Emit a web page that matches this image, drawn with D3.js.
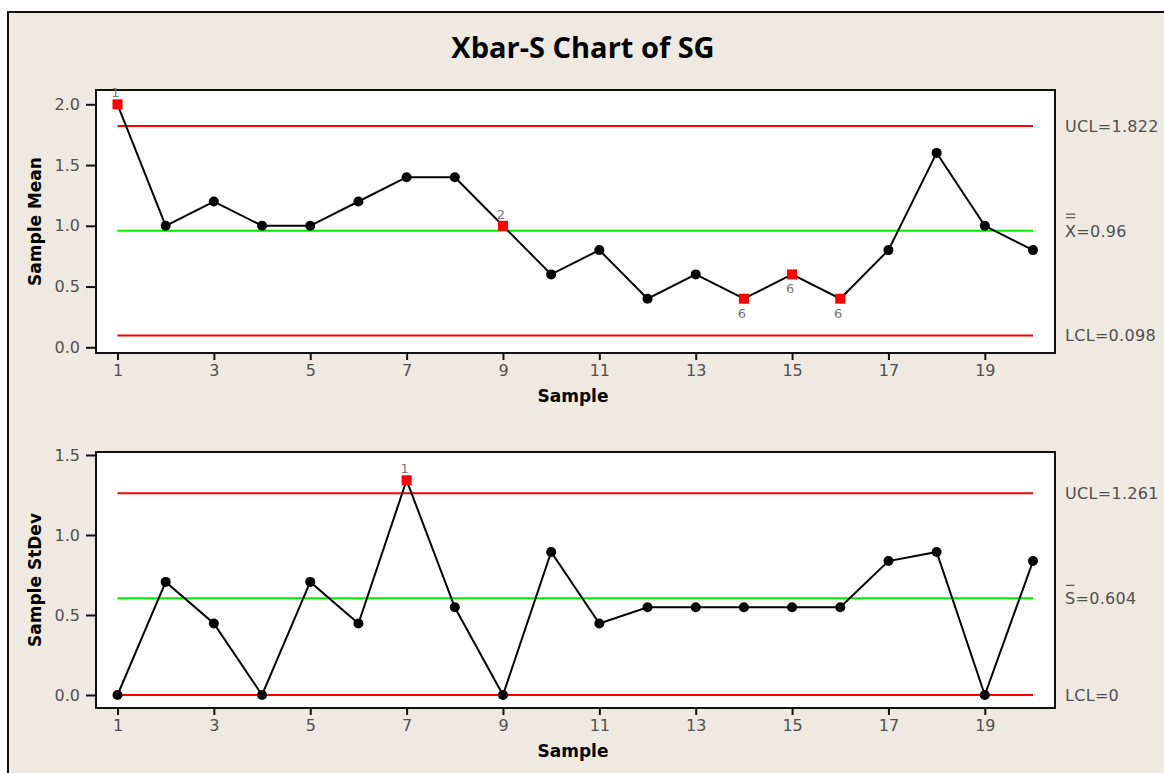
<!DOCTYPE html>
<html>
<head>
<meta charset="utf-8">
<script src="https://cdn.jsdelivr.net/npm/d3@7"></script>
<style>
  html, body { margin: 0; padding: 0; background: #ffffff; }
  svg { display: block; }
</style>
</head>
<body>
<script>
// Subgroup numbers and plotted statistics
const samples = d3.range(1, 21);
const sampleMeans = [2.0, 1.0, 1.2, 1.0, 1.0, 1.2, 1.4, 1.4, 1.0, 0.6,
                     0.8, 0.4, 0.6, 0.4, 0.6, 0.4, 0.8, 1.6, 1.0, 0.8];
const sampleStDevs = [0, 0.707, 0.447, 0, 0.707, 0.447, 1.342, 0.548, 0, 0.894,
                      0.447, 0.548, 0.548, 0.548, 0.548, 0.548, 0.837, 0.894, 0, 0.837];

// Control limits
const meanLimits = { ucl: 1.822, center: 0.96, lcl: 0.098 };
const sdLimits = { ucl: 1.261, center: 0.604, lcl: 0 };

// Failed-test flags: sample number -> test number
const meanFlags = [ { s: 1, test: "1", pos: "above" }, { s: 9, test: "2", pos: "above" },
                    { s: 14, test: "6", pos: "below" }, { s: 15, test: "6", pos: "below" },
                    { s: 16, test: "6", pos: "below" } ];
const sdFlags = [ { s: 7, test: "1", pos: "above" } ];

// Axis ticks
const xTicks = [1, 3, 5, 7, 9, 11, 13, 15, 17, 19];
const meanTicks = [0.0, 0.5, 1.0, 1.5, 2.0];
const sdTicks = [0.0, 0.5, 1.0, 1.5];

const W = 1164, H = 773;
const svg = d3.select("body").append("svg").attr("width", W).attr("height", H);

const tickFont = "'DejaVu Sans', sans-serif";
const boldFont = "'DejaVu Sans', sans-serif";
const tickColor = "#505050";

// Beige panel
svg.append("rect").attr("x", 8).attr("y", 12).attr("width", 1200).attr("height", 800)
  .attr("fill", "#eeeae1").attr("stroke", "#111").attr("stroke-width", 2);

svg.append("text").attr("x", 583).attr("y", 58).attr("text-anchor", "middle")
  .attr("font-family", "'Open Sans', sans-serif").attr("font-weight", 700)
  .attr("font-size", 29).attr("fill", "#000").text("Xbar-S Chart of SG");

const x = d3.scaleLinear().domain([1, 20]).range([117.5, 1033]);

function panel(cfg) {
  const { top, bottom, y, values, limits, flags, ticks, yTitle, labels } = cfg;
  const g = svg.append("g");
  const left = 96, right = 1055;

  g.append("rect").attr("x", left).attr("y", top).attr("width", right - left)
    .attr("height", bottom - top).attr("fill", "#fff").attr("stroke", "#111").attr("stroke-width", 2);

  // Y axis
  const yAxis = g.append("g").attr("transform", `translate(${left},0)`)
    .call(d3.axisLeft(y).tickValues(ticks).tickFormat(d3.format(".1f")).tickSize(10).tickPadding(6));
  yAxis.select(".domain").remove();
  yAxis.selectAll("line").attr("stroke", "#111").attr("stroke-width", 2);
  yAxis.selectAll("text").attr("font-family", tickFont).attr("font-size", 16).attr("fill", tickColor);

  // X axis
  const xAxis = g.append("g").attr("transform", `translate(0,${bottom})`)
    .call(d3.axisBottom(x).tickValues(xTicks).tickFormat(d3.format("d")).tickSize(7).tickPadding(5));
  xAxis.select(".domain").remove();
  xAxis.selectAll("line").attr("stroke", "#111").attr("stroke-width", 2);
  xAxis.selectAll("text").attr("font-family", tickFont).attr("font-size", 16).attr("fill", tickColor);

  g.append("text").attr("x", 573).attr("y", bottom + 49).attr("text-anchor", "middle")
    .attr("font-family", boldFont).attr("font-weight", 700).attr("font-size", 17)
    .attr("fill", "#000").text("Sample");

  g.append("text").attr("transform", `translate(41,${(top + bottom) / 2}) rotate(-90)`)
    .attr("text-anchor", "middle").attr("font-family", boldFont).attr("font-weight", 700)
    .attr("font-size", 17).attr("fill", "#000").text(yTitle);

  // Control lines
  const limitLines = [
    { v: limits.ucl, c: "#ff0000" }, { v: limits.center, c: "#00ee00" }, { v: limits.lcl, c: "#ff0000" }
  ];
  g.selectAll(".limit").data(limitLines).join("line")
    .attr("x1", x(1)).attr("x2", x(20))
    .attr("y1", d => y(d.v)).attr("y2", d => y(d.v))
    .attr("stroke", d => d.c).attr("stroke-width", 2);

  // Series line
  const line = d3.line().x((d, i) => x(samples[i])).y(d => y(d));
  g.append("path").datum(values).attr("d", line).attr("fill", "none")
    .attr("stroke", "#000").attr("stroke-width", 2);

  const flagged = new Set(flags.map(f => f.s));
  const pts = samples.map((s, i) => ({ s, v: values[i] }));
  g.selectAll(".pt").data(pts.filter(p => !flagged.has(p.s))).join("circle")
    .attr("cx", d => x(d.s)).attr("cy", d => y(d.v)).attr("r", 5).attr("fill", "#000");
  g.selectAll(".sq").data(pts.filter(p => flagged.has(p.s))).join("rect")
    .attr("x", d => x(d.s) - 5).attr("y", d => y(d.v) - 5).attr("width", 10).attr("height", 10)
    .attr("fill", "#ff0000");

  g.selectAll(".flag").data(flags).join("text")
    .attr("x", d => x(d.s) - 2)
    .attr("y", d => d.pos === "above" ? y(values[d.s - 1]) - 7 : y(values[d.s - 1]) + 19)
    .attr("text-anchor", "middle").attr("font-family", tickFont).attr("font-size", 13)
    .attr("fill", "#777").text(d => d.test);

  // Limit labels on the right
  labels.forEach(l => {
    const t = g.append("text").attr("x", 1065).attr("y", y(l.v) + 6)
      .attr("font-family", tickFont).attr("font-size", 16).attr("fill", tickColor)
      .attr("letter-spacing", 0.3);
    t.append("tspan").text(l.head);
    t.append("tspan").text(l.tail);
    if (l.bars) {
      const headW = t.select("tspan").node().getComputedTextLength();
      for (let k = 0; k < l.bars; k++) {
        g.append("line").attr("x1", 1066).attr("x2", 1065 + headW - 1)
          .attr("y1", y(l.v) - 13 - k * 3.5).attr("y2", y(l.v) - 13 - k * 3.5)
          .attr("stroke", tickColor).attr("stroke-width", 1.2);
      }
    }
  });
}

const yMean = d3.scaleLinear().domain([0, 2]).range([347.3, 104.3]);
panel({
  top: 90, bottom: 353, y: yMean, values: sampleMeans, limits: meanLimits,
  flags: meanFlags, ticks: meanTicks, yTitle: "Sample Mean",
  labels: [
    { v: meanLimits.ucl, head: "UCL", tail: "=1.822", bars: 0 },
    { v: meanLimits.center, head: "X", tail: "=0.96", bars: 2 },
    { v: meanLimits.lcl, head: "LCL", tail: "=0.098", bars: 0 }
  ]
});

const ySd = d3.scaleLinear().domain([0, 1.5]).range([695, 455]);
panel({
  top: 452, bottom: 708, y: ySd, values: sampleStDevs, limits: sdLimits,
  flags: sdFlags, ticks: sdTicks, yTitle: "Sample StDev",
  labels: [
    { v: sdLimits.ucl, head: "UCL", tail: "=1.261", bars: 0 },
    { v: sdLimits.center, head: "S", tail: "=0.604", bars: 1 },
    { v: sdLimits.lcl, head: "LCL", tail: "=0", bars: 0 }
  ]
});
</script>
</body>
</html>
